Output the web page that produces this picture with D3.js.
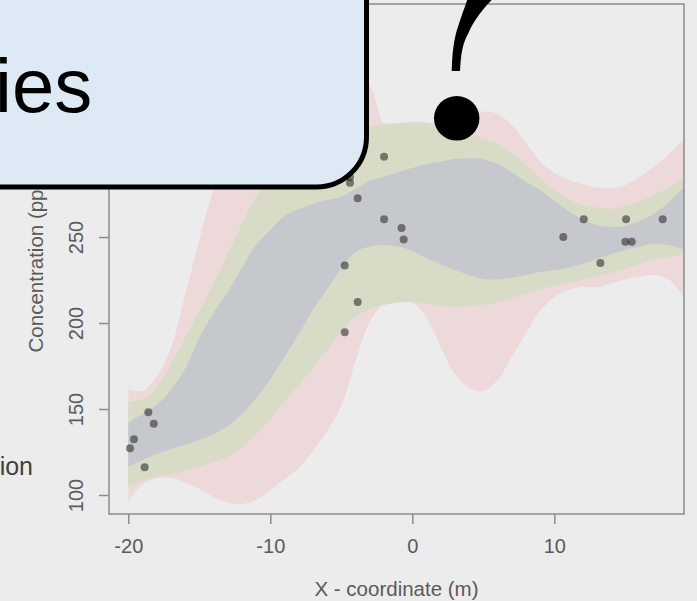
<!DOCTYPE html>
<html>
<head>
<meta charset="utf-8">
<script src="https://cdn.jsdelivr.net/npm/d3@7"></script>
<style>
  body { margin: 0; background: #ececec; }
  svg { display: block; font-family: Arial, "Liberation Sans", sans-serif; }
</style>
</head>
<body>
<div id="chart"></div>
<script>
// Data
const xGrid = [-20, -19, -18, -17, -16, -15, -14, -13, -12, -11, -10, -9, -8, -7, -6, -5, -4, -3, -2, -1, 0,
  1, 2, 3, 4, 5, 6, 7, 8, 9, 10, 11, 12, 13, 14, 15, 16, 17, 18, 19, 20];

const pinkUpper = [161.6, 160.5, 169.2, 185.5, 216.3, 248.3, 277.3, 298.8, 318.0, 331.4, 341.3, 347.1, 350.6, 352.3,
  351.7, 349.4, 344.8, 338.4, 315.7, 308.7, 307.6, 309.9, 314.5, 319.2, 322.1, 323.0, 321.5, 315.1, 304.7, 293.8,
  287.2, 283.4, 280.5, 278.8, 278.5, 280.2, 284.9, 290.7, 297.7, 305.8, 314.0];
const pinkLower = [96.1, 106.4, 109.6, 110.2, 107.3, 103.5, 98.8, 95.6, 94.8, 97.1, 102.9, 109.3, 115.7, 125.6,
  137.2, 151.7, 177.9, 200.6, 211.0, 212.4, 211.9, 202.9, 186.0, 170.3, 162.2, 160.5, 166.9, 180.2, 194.2, 207.0,
  215.1, 219.5, 220.9, 220.9, 223.0, 225.3, 226.7, 227.9, 225.6, 216.9, 207.6];

const oliveUpper = [154.2, 155.8, 162.2, 176.2, 191.3, 207.0, 223.3, 240.1, 257.6, 273.3, 283.1, 291.3, 298.8, 304.1,
  308.1, 311.0, 312.8, 314.1, 315.7, 316.3, 316.9, 316.6, 315.1, 312.8, 309.9, 307.0, 304.1, 298.8, 291.9, 284.3,
  277.3, 272.1, 268.6, 267.2, 266.3, 268.0, 270.9, 274.4, 278.5, 284.3, 290.1];
const oliveLower = [104.5, 108.4, 110.8, 112.2, 114.2, 116.3, 119.2, 122.1, 127.9, 135.5, 144.2, 154.1, 164.0, 173.8,
  184.3, 194.8, 203.5, 208.1, 210.5, 211.9, 212.2, 211.0, 209.9, 209.3, 209.9, 210.5, 212.2, 214.5, 216.9, 219.2,
  221.8, 223.3, 225.0, 227.0, 229.1, 231.4, 234.3, 236.9, 238.4, 239.5, 240.7];

const grayUpper = [142.0, 147.1, 152.3, 161.0, 173.3, 191.3, 205.8, 218.0, 232.0, 245.3, 254.1, 262.2, 266.3, 269.2,
  271.5, 273.3, 277.9, 282.6, 284.9, 287.8, 290.1, 292.4, 293.8, 295.3, 295.6, 295.1, 292.4, 287.8, 282.0, 277.3,
  270.9, 265.1, 259.9, 257.0, 255.8, 256.4, 259.3, 263.4, 269.8, 277.9, 286.0];
const grayLower = [116.5, 120.3, 123.8, 126.7, 129.1, 132.0, 135.5, 140.1, 147.1, 156.4, 167.4, 180.2, 193.6, 207.6,
  219.8, 232.0, 241.3, 244.5, 245.3, 244.5, 241.9, 237.8, 234.0, 230.8, 227.9, 225.6, 225.3, 226.2, 227.9, 229.7,
  230.8, 232.3, 234.3, 237.2, 240.1, 242.4, 244.5, 245.9, 245.3, 243.3, 240.7];

const pointX = [-19.88, -19.60, -18.59, -18.21, -18.85, -4.76, -4.76, -3.85, -3.85, -4.39, -4.39,
  -1.99, -1.99, -0.76, -0.61, 10.63, 12.07, 13.24, 15.05, 15.00, 15.45, 17.63];
const pointY = [127.2, 132.4, 148.1, 141.5, 116.1, 233.5, 194.6, 212.2, 272.5, 284.7, 281.6,
  296.7, 260.3, 255.2, 248.5, 250.0, 260.3, 234.9, 260.3, 247.3, 247.3, 260.3];

const xTicks = [-20, -10, 0, 10];
const yTicks = [100, 150, 200, 250, 300, 350];

// Dimensions
const width = 697;
const height = 601;
const margin = { top: 4, right: 13, bottom: 87, left: 109 };
const innerWidth = width - margin.left - margin.right;
const innerHeight = height - margin.top - margin.bottom;

const svg = d3.select("#chart")
  .append("svg")
    .attr("width", width)
    .attr("height", height);

const g = svg.append("g")
    .attr("transform", `translate(${margin.left}, ${margin.top})`);

const xScale = d3.scaleLinear()
  .domain([-21.36, 19.13])
  .range([0, innerWidth]);
const yScale = d3.scaleLinear()
  .domain([88.95, 385.5])
  .range([innerHeight, 0]);

g.append("clipPath")
    .attr("id", "plot-clip")
  .append("rect")
    .attr("width", innerWidth)
    .attr("height", innerHeight);

// Bands
const bands = [
  { upper: pinkUpper, lower: pinkLower, color: "#eed9da" },
  { upper: oliveUpper, lower: oliveLower, color: "#d8dbc6" },
  { upper: grayUpper, lower: grayLower, color: "#c5c8cd" }
];

const bandGroup = g.append("g")
    .attr("clip-path", "url(#plot-clip)");

bands.forEach(b => {
  const area = d3.area()
    .x((d, i) => xScale(xGrid[i]))
    .y0((d, i) => yScale(b.lower[i]))
    .y1((d, i) => yScale(b.upper[i]))
    .curve(d3.curveCatmullRom);
  bandGroup.append("path")
      .datum(xGrid)
      .attr("d", area)
      .attr("fill", b.color);
});

// Points
bandGroup.selectAll(".pt")
  .data(pointX)
  .join("circle")
    .attr("class", "pt")
    .attr("cx", d => xScale(d))
    .attr("cy", (d, i) => yScale(pointY[i]))
    .attr("r", 4)
    .attr("fill", "#2f3030")
    .attr("fill-opacity", 0.6);

// Axes
const axisColor = "#8c8c8c";
const labelColor = "#5a5a5a";

const bottomAxis = d3.axisBottom(xScale)
  .tickValues(xTicks)
  .tickFormat(d => String(d))
  .tickSize(10)
  .tickSizeOuter(0)
  .tickPadding(14.5);
const xAxis = g.append("g")
    .attr("transform", `translate(0, ${innerHeight})`)
    .call(bottomAxis);

const leftAxis = d3.axisLeft(yScale)
  .tickValues(yTicks)
  .tickFormat(d => String(d))
  .tickSize(10)
  .tickSizeOuter(0);
const yAxis = g.append("g")
    .call(leftAxis);
yAxis.selectAll("text")
    .attr("x", null)
    .attr("dy", null)
    .attr("text-anchor", "middle")
    .attr("transform", "translate(-26, 0) rotate(-90)");

[xAxis, yAxis].forEach(a => {
  a.select(".domain").remove();
  a.selectAll("line").attr("stroke", axisColor).attr("stroke-width", 1.5);
  a.selectAll("text")
      .attr("font-size", 20)
      .attr("font-family", "Arial, 'Liberation Sans', sans-serif")
      .attr("fill", labelColor);
});

g.append("rect")
    .attr("width", innerWidth)
    .attr("height", innerHeight)
    .attr("fill", "none")
    .attr("stroke", axisColor)
    .attr("stroke-width", 1.5);

// Axis titles
g.append("text")
    .attr("x", innerWidth / 2)
    .attr("y", 592)
    .attr("text-anchor", "middle")
    .attr("font-size", 20.5)
    .attr("fill", labelColor)
    .text("X - coordinate (m)");

g.append("text")
    .attr("transform", `translate(${43 - margin.left}, ${innerHeight / 2}) rotate(-90)`)
    .attr("text-anchor", "middle")
    .attr("font-size", 20.5)
    .attr("fill", labelColor)
    .text("Concentration (ppm)");

// Slide overlay
svg.append("text")
    .attr("x", 33)
    .attr("y", 475)
    .attr("text-anchor", "end")
    .attr("font-size", 25)
    .attr("fill", "#404040")
    .text("ion");

const r = 50;
svg.append("path")
    .attr("d", `M -10,-10 H 366.5 V ${187 - r} A ${r} ${r} 0 0 1 ${366.5 - r},187 H -10 Z`)
    .attr("fill", "#dde9f5")
    .attr("stroke", "#000")
    .attr("stroke-width", 5);

svg.append("text")
    .attr("x", -5)
    .attr("y", 112)
    .attr("font-size", 76)
    .attr("fill", "#000")
    .text("ies");

// Question mark
svg.append("path")
    .attr("d", "M451.7,71 L460,71 C461,55 462,45 468.3,33.3 C472,25 478,14 491.7,0 L494,-6 L469,-6 C466,5 461,16 456,33.3 C453,45 452,58 451.7,71 Z")
    .attr("fill", "#000");
svg.append("ellipse")
    .attr("cx", 456.7)
    .attr("cy", 118.3)
    .attr("rx", 22.7)
    .attr("ry", 22.3)
    .attr("fill", "#000");
</script>
</body>
</html>
